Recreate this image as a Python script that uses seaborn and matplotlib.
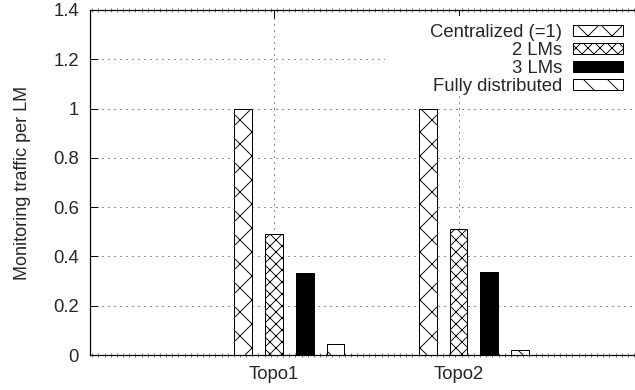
import matplotlib
matplotlib.use("Agg")
import matplotlib.pyplot as plt
from matplotlib.patches import Rectangle
from matplotlib.ticker import MultipleLocator, FuncFormatter, FixedLocator
import seaborn as sns
import pandas as pd

# Values per topology and monitoring scheme
topologies = ["Topo1", "Topo2"]
schemes = ["Centralized (=1)", "2 LMs", "3 LMs", "Fully distributed"]
centralized = [1.0, 1.0]
two_lms = [0.49, 0.51]
three_lms = [0.334, 0.336]
fully_distributed = [0.046, 0.021]
yticks = [0, 0.2, 0.4, 0.6, 0.8, 1.0, 1.2, 1.4]

fill_colors = ["white", "white", "black", "white"]
hatches = ["x", "xx", "", "\\"]

rows = []
for scheme, vals in zip(schemes, [centralized, two_lms, three_lms, fully_distributed]):
    for topo, v in zip(topologies, vals):
        rows.append({"topology": topo, "scheme": scheme, "traffic": v})
df = pd.DataFrame(rows)

sns.set_style("white")
plt.rcParams["font.family"] = ["Liberation Sans", "DejaVu Sans"]
plt.rcParams["hatch.linewidth"] = 0.9
plt.rcParams["lines.scale_dashes"] = False

DPI = 72
fig = plt.figure(figsize=(635 / DPI, 390 / DPI), dpi=DPI)
ax = fig.add_axes([90 / 635, 35 / 390, 545 / 635, 345 / 390])

sns.barplot(data=df, x="topology", y="traffic", hue="scheme",
            order=topologies, hue_order=schemes,
            palette=fill_colors, width=4 / 6, gap=0.42,
            edgecolor="black", linewidth=1.0, saturation=1,
            legend=False, ax=ax, zorder=2)

for container, h in zip(ax.containers, hatches):
    for bar in container:
        bar.set_hatch(h)
        bar.set_edgecolor("black")

ax.set_xlim(-1.079, 1.872)
ax.set_ylim(0, 1.4)
ax.set_xlabel("")
ax.set_ylabel("Monitoring traffic per LM", fontsize=18)
ax.yaxis.set_label_coords(-0.108, 0.5)

# labels sit under the second bar of each cluster
slot = (4 / 6) / len(schemes)
tick_pos = [i - slot / 2 for i in range(len(topologies))]
ax.xaxis.set_major_locator(FixedLocator(tick_pos))
ax.set_xticklabels(topologies)
ax.xaxis.set_minor_locator(MultipleLocator(1 / 30))
ax.set_yticks(yticks)
ax.yaxis.set_major_formatter(FuncFormatter(lambda v, p: f"{v:g}"))

ax.tick_params(axis="both", which="major", direction="in", length=8,
               width=1, color="black", labelsize=18.5, pad=11)
ax.tick_params(axis="x", which="major", top=True, bottom=True)
ax.tick_params(axis="x", which="minor", direction="inout", length=4,
               width=0.8, color="0.3", top=True, bottom=True)
ax.tick_params(axis="y", which="major", left=True, right=False)

ax.grid(True, which="major", axis="both", color="0.15", linewidth=1,
        linestyle=(0, (1, 5)))
ax.set_axisbelow(True)

for side in ["left", "top", "bottom"]:
    ax.spines[side].set_color("black")
    ax.spines[side].set_linewidth(1.2)
ax.spines["right"].set_visible(False)

# opaque key area
ax.add_patch(Rectangle((0.541, 0.757), 0.47, 0.226, transform=ax.transAxes,
                       facecolor="white", edgecolor="none", zorder=1,
                       clip_on=False))

leg = ax.legend(handles=list(ax.containers), labels=schemes,
                loc="upper right", bbox_to_anchor=(623 / 635, 366 / 390),
                bbox_transform=fig.transFigure, frameon=False,
                markerfirst=False, fontsize=18.5, handlelength=2.7,
                handleheight=0.5, handletextpad=0.6, labelspacing=0.06,
                borderpad=0, borderaxespad=0)
leg.set_zorder(5)

fig.savefig("out.png", dpi=DPI, facecolor="white")
